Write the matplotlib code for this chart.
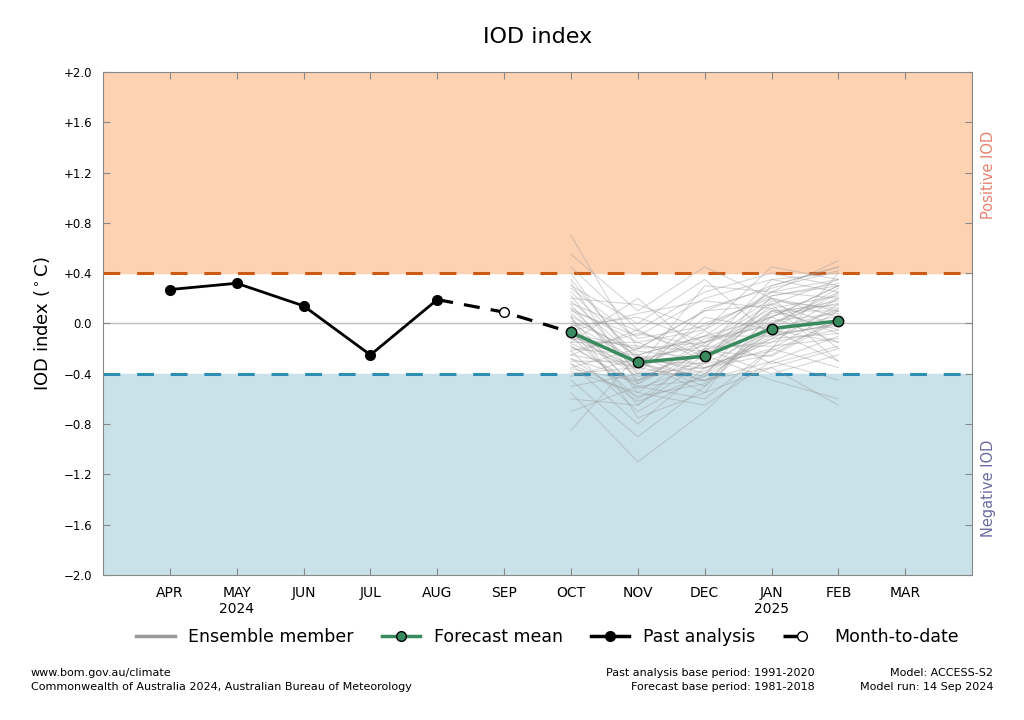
''' IOD index forecast chart'''

import numpy as np
import matplotlib
matplotlib.use('Agg')
import matplotlib.pyplot as plt
from matplotlib.lines import Line2D

# months on the x axis
months = ['APR', 'MAY', 'JUN', 'JUL', 'AUG', 'SEP',
          'OCT', 'NOV', 'DEC', 'JAN', 'FEB', 'MAR']
month_labels = ['APR', 'MAY\n2024', 'JUN', 'JUL', 'AUG', 'SEP',
                'OCT', 'NOV', 'DEC', 'JAN\n2025', 'FEB', 'MAR']

# past analysis APR-AUG
past_months = ['APR', 'MAY', 'JUN', 'JUL', 'AUG']
past_vals = [0.27, 0.32, 0.14, -0.25, 0.19]

# month to date (SEP)
mtd_month = 'SEP'
mtd_val = 0.09

# forecast mean OCT-FEB
fc_months = ['OCT', 'NOV', 'DEC', 'JAN', 'FEB']
fc_mean = [-0.07, -0.31, -0.26, -0.04, 0.02]

# ensemble members OCT-FEB (read off roughly)
ensemble = [
    [0.70, -0.20, 0.10, 0.30, 0.45],
    [0.55, 0.10, 0.45, 0.20, 0.10],
    [0.40, -0.35, -0.10, 0.25, 0.50],
    [0.30, 0.00, 0.35, -0.10, 0.20],
    [0.25, -0.25, -0.40, 0.05, 0.30],
    [0.20, 0.15, -0.05, 0.45, 0.35],
    [0.15, -0.45, -0.30, 0.10, -0.05],
    [0.10, -0.10, 0.20, 0.35, 0.40],
    [0.05, -0.55, -0.20, -0.15, 0.15],
    [0.00, -0.30, -0.50, 0.00, 0.25],
    [-0.02, 0.05, -0.15, 0.20, -0.20],
    [-0.05, -0.40, -0.35, -0.25, 0.05],
    [-0.08, -0.20, 0.10, 0.15, 0.35],
    [-0.10, -0.60, -0.25, -0.05, 0.10],
    [-0.12, -0.35, -0.45, -0.30, -0.10],
    [-0.15, -0.15, -0.05, 0.25, 0.20],
    [-0.18, -0.50, -0.60, -0.20, -0.35],
    [-0.20, -0.25, -0.10, 0.05, 0.30],
    [-0.22, -0.70, -0.40, -0.10, 0.00],
    [-0.25, -0.05, -0.30, 0.30, 0.45],
    [-0.28, -0.45, -0.20, -0.40, -0.25],
    [-0.30, -0.30, -0.55, 0.10, 0.15],
    [-0.32, -0.80, -0.35, -0.15, -0.05],
    [-0.35, -0.20, -0.15, 0.00, 0.20],
    [-0.38, -0.55, -0.65, -0.30, -0.45],
    [-0.40, -0.35, 0.00, 0.20, 0.05],
    [-0.45, -0.90, -0.50, -0.05, -0.15],
    [-0.50, -0.40, -0.25, -0.45, -0.60],
    [-0.55, -1.10, -0.70, -0.20, 0.10],
    [-0.60, -0.65, -0.30, 0.15, -0.30],
    [-0.70, -0.50, -0.45, -0.35, -0.65],
    [-0.85, -0.25, -0.10, -0.10, 0.00],
    [0.45, -0.05, 0.25, 0.40, 0.30],
    [0.12, -0.15, -0.35, -0.20, 0.40],
    [-0.05, -0.65, -0.20, 0.35, 0.25],
    [0.22, -0.40, 0.05, -0.05, -0.30],
    [-0.15, 0.20, -0.25, 0.10, 0.10],
    [0.35, -0.30, -0.15, 0.05, -0.15],
    [-0.25, -0.35, 0.30, 0.25, 0.35],
    [0.05, -0.75, -0.55, -0.35, -0.20],
    [0.18, -0.28, -0.18, 0.12, 0.22],
    [-0.08, -0.42, -0.38, -0.08, -0.02],
    [0.02, -0.22, -0.28, 0.18, 0.12],
    [-0.18, -0.48, -0.12, -0.02, 0.28],
    [0.08, -0.32, -0.42, -0.12, -0.08],
    [-0.12, -0.18, -0.22, 0.08, 0.18],
    [-0.02, -0.52, -0.32, -0.22, 0.02],
    [0.28, -0.12, -0.02, 0.22, 0.32],
    [-0.32, -0.58, -0.48, 0.02, 0.08],
    [-0.22, -0.08, -0.18, -0.18, -0.12],
    [0.12, -0.38, 0.12, 0.28, 0.42],
    [-0.42, -0.28, -0.36, -0.12, 0.12],
    [0.32, -0.48, -0.22, -0.26, 0.02],
    [-0.06, 0.08, 0.18, 0.12, -0.08],
    [-0.28, -0.62, -0.42, 0.22, 0.30],
    [0.06, -0.26, -0.46, -0.04, 0.24],
    [-0.16, -0.36, -0.06, -0.32, -0.18],
    [0.16, -0.06, -0.26, 0.06, 0.16],
    [-0.36, -0.46, -0.16, 0.16, -0.02],
    [-0.10, -0.30, -0.32, -0.06, 0.06],
]

# thresholds and y ticks
pos_thresh = 0.4
neg_thresh = -0.4
yticks = [-2.0, -1.6, -1.2, -0.8, -0.4, 0.0, 0.4, 0.8, 1.2, 1.6, 2.0]
ytick_labels = ['\u22122.0', '\u22121.6', '\u22121.2', '\u22120.8', '\u22120.4',
                '0.0', '+0.4', '+0.8', '+1.2', '+1.6', '+2.0']

pos = {m: i for i, m in enumerate(months)}

fig = plt.figure(figsize=(10.24, 7.2), dpi=100)
ax = fig.add_axes([0.1006, 0.2014, 0.8487, 0.6986])

# background bands
ax.axhspan(pos_thresh, 2.0, color='#fdd2b3', zorder=0)
ax.axhspan(-2.0, neg_thresh, color='#c9e2e9', zorder=0)
ax.axhline(0, color='#c0c0c0', lw=1, zorder=1)
ax.axhline(pos_thresh, color='#cc5a14', lw=2.2, ls=(0, (5.5, 5.5)), zorder=2)
ax.axhline(neg_thresh, color='#2e8db5', lw=2.2, ls=(0, (5.5, 5.5)), zorder=2)

# ensemble
fx = [pos[m] for m in fc_months]
for mem in ensemble:
    ax.plot(fx, mem, color='#9a9a9a', lw=0.8, alpha=0.4, zorder=3)

# past analysis
px = [pos[m] for m in past_months]
ax.plot(px, past_vals, color='black', lw=2, marker='o', ms=7, zorder=5)

# dashed link AUG -> SEP -> OCT
ax.plot([px[-1], pos[mtd_month], fx[0]], [past_vals[-1], mtd_val, fc_mean[0]],
        color='black', lw=2.3, ls=(0, (5, 3.5)), zorder=4)
ax.plot(pos[mtd_month], mtd_val, marker='o', ms=7, mfc='white', mec='black',
        mew=1, ls='none', zorder=6)

# forecast mean
ax.plot(fx, fc_mean, color='#3a8a5f', lw=2.5, marker='o', ms=7.5,
        mfc='#3a8a5f', mec='black', mew=1, zorder=6)

ax.set_xlim(-1, 12)
ax.set_ylim(-2, 2)
ax.set_xticks(range(len(months)))
ax.set_xticklabels(month_labels, fontsize=10)
ax.set_yticks(yticks)
ax.set_yticklabels(ytick_labels, fontsize=8.5)
ax.tick_params(direction='in', length=5, color='#888888', top=True, right=True,
               pad=8)
for sp in ax.spines.values():
    sp.set_color('#888888')

ax.set_ylabel('IOD index ($^\\circ$C)', fontsize=13, labelpad=8)
fig.text(0.525, 0.948, 'IOD index', ha='center', va='center', fontsize=16)

fig.text(0.965, 0.757, 'Positive IOD', rotation=90, ha='center', va='center',
         color='#e8806c', fontsize=10.5)
fig.text(0.965, 0.322, 'Negative IOD', rotation=90, ha='center', va='center',
         color='#6c6aa0', fontsize=10.5)

# legend
handles = [
    Line2D([], [], color='#9a9a9a', lw=2.5),
    Line2D([], [], color='#3a8a5f', lw=2.5, marker='o', ms=7,
           mfc='#3a8a5f', mec='black'),
    Line2D([], [], color='black', lw=2.5, marker='o', ms=7),
    Line2D([], [], color='black', lw=2.5, ls=(0, (4, 10)), marker='o', ms=7,
           mfc='white', mec='black'),
]
labels = ['Ensemble member', 'Forecast mean', 'Past analysis', 'Month-to-date']
fig.legend(handles, labels, loc='center', bbox_to_anchor=(0.535, 0.115),
           ncol=4, frameon=False, fontsize=12.5, handlelength=2.2,
           columnspacing=1.6, handletextpad=0.8)

# footer
fig.text(0.03, 0.065, 'www.bom.gov.au/climate', fontsize=8, va='center')
fig.text(0.03, 0.046, 'Commonwealth of Australia 2024, Australian Bureau of Meteorology',
         fontsize=8, va='center')
fig.text(0.796, 0.065, 'Past analysis base period: 1991-2020', fontsize=8,
         va='center', ha='right')
fig.text(0.796, 0.046, 'Forecast base period: 1981-2018', fontsize=8,
         va='center', ha='right')
fig.text(0.97, 0.065, 'Model: ACCESS-S2', fontsize=8, va='center', ha='right')
fig.text(0.97, 0.046, 'Model run: 14 Sep 2024', fontsize=8, va='center', ha='right')

fig.savefig('out.png', dpi=100)
